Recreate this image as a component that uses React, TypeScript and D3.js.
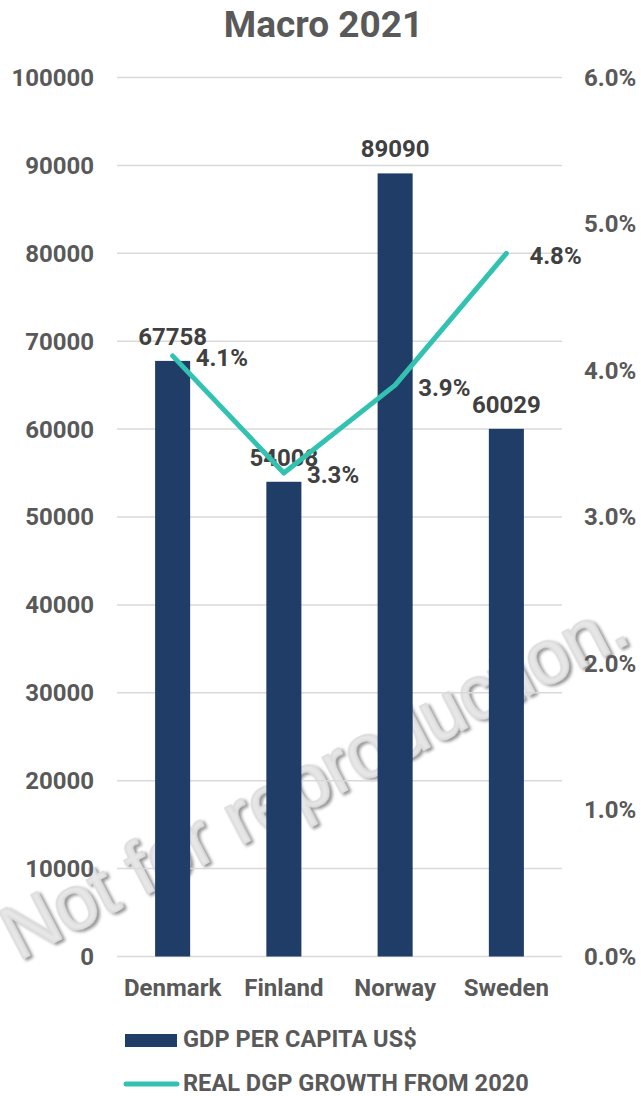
import React, { useEffect } from 'react';
import * as d3 from 'd3';

const titleText = 'Macro 2021';
const categories = ['Denmark', 'Finland', 'Norway', 'Sweden'];
const gdpPerCapita = [67758, 54008, 89090, 60029];
const realGrowth = [0.041, 0.033, 0.039, 0.048];
const leftTicks = [0, 10000, 20000, 30000, 40000, 50000, 60000, 70000, 80000, 90000, 100000];
const rightTicks = [0, 0.01, 0.02, 0.03, 0.04, 0.05, 0.06];
const legendLabels = ['GDP PER CAPITA US$', 'REAL DGP GROWTH FROM 2020'];
const watermarkText = 'Not for reproduction.';

const W = 641;
const H = 1096;
const plotLeft = 117;
const plotRight = 562;
const plotTop = 77.5;
const plotBottom = 956.5;

const BAR = '#1f3d66';
const LINE = '#33c2b2';
const AXIS_TEXT = '#595959';
const LABEL_TEXT = '#404040';
const GRID = '#d9d9d9';
const FONT = 'Roboto, "Noto Sans", sans-serif';

export default function App() {
  useEffect(() => {
    document.body.style.margin = '0';
  }, []);

  const x = d3.scaleBand<string>().domain(categories).range([plotLeft, plotRight]).paddingInner(0.685).paddingOuter(0.3425);
  const yL = d3.scaleLinear().domain([0, 100000]).range([plotBottom, plotTop]);
  const yR = d3.scaleLinear().domain([0, 0.06]).range([plotBottom, plotTop]);
  const cx = (c: string) => (x(c) as number) + x.bandwidth() / 2;

  const linePath = d3
    .line<number>()
    .x((_, i) => cx(categories[i]))
    .y((d) => yR(d))(realGrowth) as string;

  const fmtPct = d3.format('.1%');

  return (
    <svg width={W} height={H} style={{ position: 'absolute', left: 0, top: 0, background: '#fff' }} fontFamily={FONT}>
      <defs>
        <filter id="wmShadow" x="-10%" y="-10%" width="120%" height="130%">
          <feDropShadow dx="2" dy="3" stdDeviation="1.5" floodColor="#7d7d7d" floodOpacity="0.8" />
        </filter>
      </defs>
      <rect x={0} y={0} width={W} height={H} fill="#fff" />

      {/* watermark (behind chart) */}
      <text
        transform="translate(18,961) rotate(-27.5)"
        fontFamily='"Liberation Sans", Arial, sans-serif'
        fontSize={76}
        fill="#e6e6e6"
        stroke="#dedede"
        strokeWidth={2.2}
        strokeLinejoin="round"
        filter="url(#wmShadow)"
      >
        {watermarkText}
      </text>

      {/* title */}
      <text x={W / 2 + 3} y={37} textAnchor="middle" fontSize={37} fontWeight={700} fill={AXIS_TEXT}>
        {titleText}
      </text>

      {/* gridlines */}
      {leftTicks.map((t) => (
        <line key={'g' + t} x1={plotLeft} x2={plotRight} y1={yL(t)} y2={yL(t)} stroke={GRID} strokeWidth={1.5} />
      ))}

      {/* left tick labels */}
      {leftTicks.map((t) => (
        <text key={'l' + t} x={94} y={yL(t)} dy="0.35em" textAnchor="end" fontSize={24} fontWeight={700} fill={AXIS_TEXT}>
          {t}
        </text>
      ))}

      {/* right tick labels */}
      {rightTicks.map((t) => (
        <text key={'r' + t} x={584} y={yR(t)} dy="0.35em" textAnchor="start" fontSize={24} fontWeight={700} fill={AXIS_TEXT}>
          {fmtPct(t)}
        </text>
      ))}

      {/* bars */}
      {categories.map((c, i) => (
        <rect key={'b' + c} x={x(c)} y={yL(gdpPerCapita[i])} width={x.bandwidth()} height={plotBottom - yL(gdpPerCapita[i])} fill={BAR} />
      ))}

      {/* bar labels */}
      {categories.map((c, i) => (
        <text key={'bl' + c} x={cx(c)} y={yL(gdpPerCapita[i]) - 16} textAnchor="middle" fontSize={24} fontWeight={700} fill={LABEL_TEXT}>
          {gdpPerCapita[i]}
        </text>
      ))}

      {/* category labels */}
      {categories.map((c) => (
        <text key={'c' + c} x={cx(c)} y={996} textAnchor="middle" fontSize={24} fontWeight={700} fill={AXIS_TEXT}>
          {c}
        </text>
      ))}

      {/* line */}
      <path d={linePath} fill="none" stroke={LINE} strokeWidth={5} strokeLinejoin="round" strokeLinecap="round" />

      {/* line labels */}
      {categories.map((c, i) => (
        <text key={'ll' + c} x={cx(c) + 23} y={yR(realGrowth[i]) + 2} dy="0.35em" textAnchor="start" fontSize={24} fontWeight={700} fill={LABEL_TEXT}>
          {fmtPct(realGrowth[i])}
        </text>
      ))}

      {/* legend */}
      <rect x={125} y={1034} width={52} height={13} fill={BAR} />
      <text x={183} y={1047} fontSize={23.6} fontWeight={700} fill={AXIS_TEXT}>
        {legendLabels[0]}
      </text>
      <line x1={126} x2={177} y1={1084} y2={1084} stroke={LINE} strokeWidth={5} strokeLinecap="round" />
      <text x={183} y={1091} fontSize={23.6} fontWeight={700} fill={AXIS_TEXT}>
        {legendLabels[1]}
      </text>
    </svg>
  );
}
